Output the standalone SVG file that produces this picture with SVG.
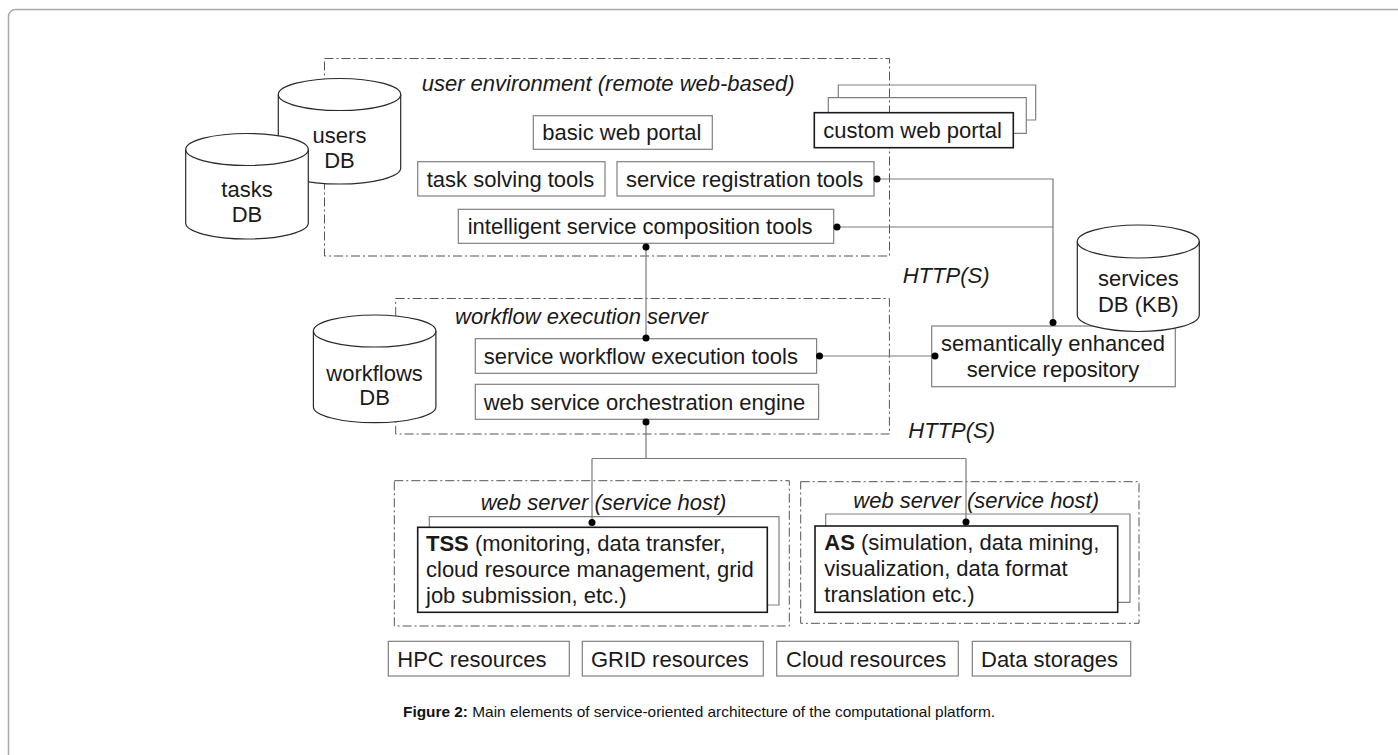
<svg xmlns="http://www.w3.org/2000/svg" width="1398" height="755" viewBox="0 0 1398 755">
<style>
  text { font-family: "Liberation Sans", Arial, sans-serif; font-size: 22px; fill: #1a1a1a; }
  .it { font-style: italic; }
  .b { font-weight: bold; }
  .mid { text-anchor: middle; }
  .box { fill: #fff; stroke: #808080; stroke-width: 1.2; }
  .front { fill: #fff; stroke: #1a1a1a; stroke-width: 1.6; }
  .back { fill: none; stroke: #808080; stroke-width: 1.2; }
  .frame { fill: none; stroke: #555; stroke-width: 1; stroke-dasharray: 9 3 2 3; }
  .cyl { fill: #fff; stroke: #2a2a2a; stroke-width: 1.2; }
  .cylline { fill: none; stroke: #2a2a2a; stroke-width: 1.2; }
  .conn { fill: none; stroke: #7a7a7a; stroke-width: 1.2; }
  .dot { fill: #000; }
  .cap { font-size: 15px; fill: #111; }
</style>
<rect x="8.5" y="9.5" width="1420" height="780" rx="7" fill="none" stroke="#aaa" stroke-width="1.5"/>

<g id="user-environment">
  <rect class="frame" x="324.5" y="58.5" width="565" height="197.5"/>
  <text class="it" x="421.7" y="91">user environment (remote web-based)</text>
</g>
<g id="users-db">
  <path class="cyl" d="M278.3,94.5 L278.3,168 A61.2,16 0 0 0 400.7,168 L400.7,94.5 A61.2,16 0 0 0 278.3,94.5 Z"/>
  <path class="cylline" d="M278.3,94.5 A61.2,16 0 0 0 400.7,94.5"/>
  <text class="mid" x="339.5" y="142.7">users</text>
  <text class="mid" x="339.5" y="167.7">DB</text>
</g>
<g id="tasks-db">
  <path class="cyl" d="M185.7,149.5 L185.7,223 A61.3,16 0 0 0 308.3,223 L308.3,149.5 A61.3,16 0 0 0 185.7,149.5 Z"/>
  <path class="cylline" d="M185.7,149.5 A61.3,16 0 0 0 308.3,149.5"/>
  <text class="mid" x="247" y="196.7">tasks</text>
  <text class="mid" x="247" y="221.7">DB</text>
</g>
<g id="basic-web-portal">
  <rect class="box" x="533.3" y="115.7" width="179" height="33.6"/>
  <text x="542.3" y="140">basic web portal</text>
</g>
<g id="custom-web-portal">
  <path class="back" d="M838.3,97.7 V85 H1035.7 V120 H1026.3"/>
  <path class="back" d="M828.3,112.7 V97.7 H1026.3 V133.3 H1013.3"/>
  <rect class="front" x="814.3" y="112.7" width="199" height="35"/>
  <text x="823.3" y="138">custom web portal</text>
</g>
<g id="task-solving-tools">
  <rect class="box" x="417.7" y="161.7" width="187.3" height="34.3"/>
  <text x="426.7" y="186.5">task solving tools</text>
</g>
<g id="service-registration-tools">
  <rect class="box" x="617" y="161.7" width="257" height="34.3"/>
  <text x="626" y="186.5">service registration tools</text>
</g>
<g id="intelligent-service-composition-tools">
  <rect class="box" x="458.3" y="209.3" width="375.4" height="34"/>
  <text x="467.7" y="234">intelligent service composition tools</text>
</g>

<g id="workflow-execution-server">
  <rect class="frame" x="395.7" y="298.5" width="493.7" height="135.5"/>
  <text class="it" x="455" y="324">workflow execution server</text>
</g>
<g id="workflows-db">
  <path class="cyl" d="M313.4,331 L313.4,406.7 A61.2,16 0 0 0 435.9,406.7 L435.9,331 A61.2,16 0 0 0 313.4,331 Z"/>
  <path class="cylline" d="M313.4,331 A61.2,16 0 0 0 435.9,331"/>
  <text class="mid" x="374.6" y="381">workflows</text>
  <text class="mid" x="374.6" y="405">DB</text>
</g>
<g id="service-workflow-execution-tools">
  <rect class="box" x="475.3" y="338.7" width="341.3" height="34.6"/>
  <text x="483.7" y="364">service workflow execution tools</text>
</g>
<g id="web-service-orchestration-engine">
  <rect class="box" x="475.3" y="384.3" width="343.3" height="35"/>
  <text x="483.7" y="410">web service orchestration engine</text>
</g>

<g id="service-repository">
  <rect class="box" x="931.7" y="326" width="243.6" height="60.7"/>
  <text class="mid" x="1053" y="350.7">semantically enhanced</text>
  <text class="mid" x="1053" y="376.7">service repository</text>
</g>
<g id="services-db">
  <path class="cyl" d="M1077.3,241.5 L1077.3,315 A61,16.5 0 0 0 1199.3,315 L1199.3,241.5 A61,16.5 0 0 0 1077.3,241.5 Z"/>
  <path class="cylline" d="M1077.3,241.5 A61,16.5 0 0 0 1199.3,241.5"/>
  <text class="mid" x="1138.3" y="286">services</text>
  <text class="mid" x="1138.3" y="311.7">DB (KB)</text>
</g>

<g id="http-labels">
  <text class="it" x="902.7" y="282.7">HTTP(S)</text>
  <text class="it" x="908.3" y="438.3">HTTP(S)</text>
</g>

<g id="web-server-tss">
  <rect class="frame" x="394.3" y="480.7" width="395" height="145.3"/>
  <text class="it" x="480.7" y="510">web server (service host)</text>
  <path class="back" d="M429.3,527.3 V516.7 H779 V605 H767.3"/>
  <rect class="front" x="417.7" y="527.3" width="349.6" height="85"/>
  <text x="426" y="550.7"><tspan class="b">TSS</tspan> (monitoring, data transfer,</text>
  <text x="426" y="576.7">cloud resource management, grid</text>
  <text x="426" y="602.7">job submission, etc.)</text>
</g>
<g id="web-server-as">
  <rect class="frame" x="800.7" y="481.7" width="338.3" height="141.6"/>
  <text class="it" x="853.3" y="508.3">web server (service host)</text>
  <path class="back" d="M825.7,526 V514 H1130 V602.3 H1117.7"/>
  <rect class="front" x="815" y="526" width="302.7" height="86.3"/>
  <text x="824.3" y="550"><tspan class="b">AS</tspan> (simulation, data mining,</text>
  <text x="824.3" y="576">visualization, data format</text>
  <text x="824.3" y="602">translation etc.)</text>
</g>

<g id="hpc-resources">
  <rect class="box" x="388.3" y="641.3" width="181" height="34.7"/>
  <text x="397.3" y="666.5">HPC resources</text>
</g>
<g id="grid-resources">
  <rect class="box" x="582.3" y="641.3" width="181" height="34.7"/>
  <text x="591" y="666.5">GRID resources</text>
</g>
<g id="cloud-resources">
  <rect class="box" x="776.7" y="641.3" width="181.6" height="34.7"/>
  <text x="786" y="666.5">Cloud resources</text>
</g>
<g id="data-storages">
  <rect class="box" x="972.3" y="641.3" width="158.4" height="34.7"/>
  <text x="981" y="666.5">Data storages</text>
</g>

<g id="connectors">
  <path class="conn" d="M877,179 H1053 V323"/>
  <path class="conn" d="M837,227 H1053"/>
  <path class="conn" d="M646,247 V338.7"/>
  <path class="conn" d="M819,356 H935"/>
  <path class="conn" d="M646,422 V458.5 M592,458.5 H966 M592,458.5 V523 M966,458.5 V522"/>
  <circle class="dot" cx="877" cy="179" r="3.5"/>
  <circle class="dot" cx="837" cy="227" r="3.5"/>
  <circle class="dot" cx="646" cy="247" r="3.5"/>
  <circle class="dot" cx="646" cy="338" r="3.5"/>
  <circle class="dot" cx="819.5" cy="356" r="3.5"/>
  <circle class="dot" cx="935" cy="356" r="3.5"/>
  <circle class="dot" cx="1053" cy="322.5" r="3.5"/>
  <circle class="dot" cx="646" cy="422" r="3.5"/>
  <circle class="dot" cx="592" cy="522.5" r="3.5"/>
  <circle class="dot" cx="966" cy="522" r="3.5"/>
</g>

<text class="cap" x="699" y="717" text-anchor="middle" textLength="592" lengthAdjust="spacingAndGlyphs"><tspan class="b">Figure 2:</tspan> Main elements of service-oriented architecture of the computational platform.</text>
</svg>
